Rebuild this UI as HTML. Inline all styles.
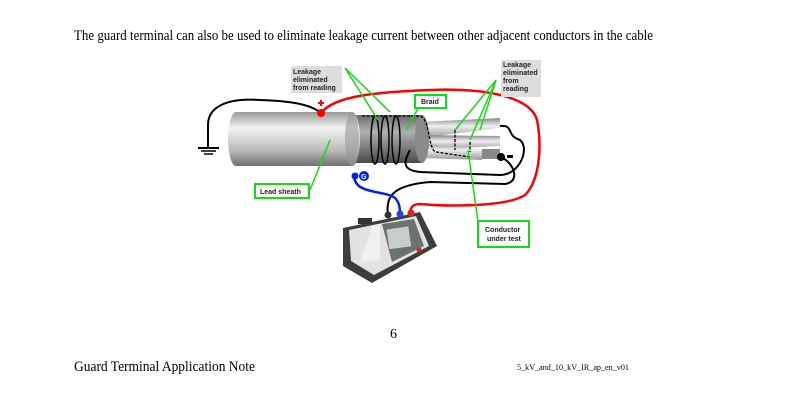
<!DOCTYPE html>
<html><head><meta charset="utf-8"><style>
html,body{margin:0;padding:0;background:#fff;}
svg{display:block}
.s{font-family:"Liberation Serif",serif;fill:#000}
.a{font-family:"Liberation Sans",sans-serif;font-weight:bold;font-size:7px;fill:#222}
</style></head><body>
<svg width="790" height="404" viewBox="0 0 790 404" xmlns="http://www.w3.org/2000/svg">
<defs>
<linearGradient id="g1" x1="0" y1="0" x2="0" y2="1">
<stop offset="0" stop-color="#9a9a9a"/><stop offset="0.3" stop-color="#f2f2f2"/><stop offset="0.7" stop-color="#bdbdbd"/><stop offset="1" stop-color="#707070"/></linearGradient>
<linearGradient id="g2" x1="0" y1="0" x2="0" y2="1">
<stop offset="0" stop-color="#6a6a6a"/><stop offset="0.35" stop-color="#b0b0b0"/><stop offset="1" stop-color="#4a4a4a"/></linearGradient>
<linearGradient id="g3" x1="0" y1="0" x2="0" y2="1">
<stop offset="0" stop-color="#888"/><stop offset="0.4" stop-color="#eee"/><stop offset="1" stop-color="#999"/></linearGradient>
</defs>
<text class="s" x="74" y="40" font-size="14.5" textLength="579" lengthAdjust="spacingAndGlyphs">The guard terminal can also be used to eliminate leakage current between other adjacent conductors in the cable</text>

<path d="M208,148 L208,125 C208,105 230,98 260,100 C290,101 310,104 321,113" fill="none" stroke="#000" stroke-width="2"/>
<line x1="198" y1="148" x2="219" y2="148" stroke="#000" stroke-width="2"/>
<line x1="201" y1="151" x2="216" y2="151" stroke="#000" stroke-width="1.5"/>
<line x1="204" y1="154" x2="213" y2="154" stroke="#000" stroke-width="1.5"/>

<path d="M321,113 C335,95 380,92 430,90 C480,88 530,95 537,120 C542,145 540,180 525,195 C505,208 440,206 420,204 C412,204 410,208 410,215" fill="none" stroke="#f00" stroke-width="2.5"/>

<path d="M420,122 L500,118 L500,128 L420,138 Z" fill="url(#g3)"/>
<path d="M420,135 L500,136 L500,146 L420,150 Z" fill="url(#g3)"/>
<path d="M420,143 L482,150 L482,160 L420,158 Z" fill="url(#g3)"/>
<rect x="482" y="149" width="18" height="10" fill="#888"/>
<path d="M352,115 L422,115 A7,24 0 0 1 422,163 L352,163 Z" fill="url(#g2)"/>
<ellipse cx="422" cy="139" rx="7" ry="24" fill="#8a8a8a"/>
<path d="M236,112 L352,112 A8,27 0 0 1 352,166 L236,166 A8,27 0 0 1 236,112 Z" fill="url(#g1)"/>
<ellipse cx="352" cy="139" rx="7" ry="27" fill="#9a9a9a" opacity="0.6"/>
<g fill="none" stroke="#000" stroke-width="1.5">
<ellipse cx="375" cy="140" rx="4" ry="24"/><ellipse cx="385" cy="140" rx="4" ry="24"/><ellipse cx="396" cy="140" rx="4" ry="24"/>
</g>
<path d="M362,116 L420,116 C430,118 428,150 436,152 L470,157" fill="none" stroke="#000" stroke-width="1.3" stroke-dasharray="3,1.5"/>
<path d="M455,130 V150 M470,142 V152" stroke="#000" stroke-width="1.3" stroke-dasharray="3,1.5"/>
<path d="M500,126 C515,125 505,135 520,140 C530,148 520,175 500,175 L420,172 C400,170 405,160 410,150" fill="none" stroke="#000" stroke-width="2"/>
<path d="M388,215 C385,195 395,185 430,182 L505,184 C520,182 515,165 503,158" fill="none" stroke="#000" stroke-width="2"/>
<circle cx="501" cy="157" r="4" fill="#000"/><rect x="507" y="155" width="6" height="3" fill="#000"/>
<path d="M354,176 C355,195 385,190 395,198 C400,203 400,210 400,215" fill="none" stroke="#0022ee" stroke-width="2.5"/>
<circle cx="355" cy="176" r="3.5" fill="#0022ee"/><circle cx="364" cy="176" r="5" fill="#0022ee"/>
<text x="361" y="179" font-family="Liberation Sans" font-weight="bold" font-size="7" fill="#fff">G</text>
<circle cx="321" cy="113" r="4" fill="#f00"/>
<path d="M318,103 H324 M321,100 V106" stroke="#f00" stroke-width="2"/>

<!-- meter -->
<path d="M343,228 L420,212 L437,246 L372,283 L343,266 Z" fill="#3a3e3e"/>
<path d="M349,230 L416,216 L429,246 L374,275 L351,261 Z" fill="#e4e1e3"/>
<path d="M372,226 L380,224 L380,260 L360,262 Z" fill="#f0eef0"/>
<path d="M382,224 L414,219 L424,246 L392,262 Z" fill="#6a7272"/>
<rect x="388" y="228" width="22" height="20" fill="#c8cccc" transform="rotate(-8 398 239)"/>
<circle cx="388" cy="215" r="3.5" fill="#333"/><circle cx="400" cy="214" r="3.5" fill="#2244dd"/><circle cx="411" cy="213" r="3.5" fill="#d22"/>
<circle cx="419" cy="250" r="2.5" fill="#d22"/>
<rect x="358" y="218" width="14" height="6" fill="#333"/>

<g stroke="#11dd11" stroke-width="1.5" fill="none">
<path d="M345,68 L390,112 M345,68 L378,120"/>
<path d="M496,80 L455,130 M496,80 L470,140 M496,80 L480,130"/>
<path d="M420,105 L406,130"/>
<path d="M310,190 L330,140"/>
<path d="M468,150 L478,222"/>
</g>
<rect x="291" y="66" width="51" height="27" fill="#ddd"/>
<text class="a" x="293" y="74">Leakage</text><text class="a" x="293" y="82">eliminated</text><text class="a" x="293" y="90">from reading</text>
<rect x="501" y="60" width="40" height="37" fill="#ddd"/>
<text class="a" x="503" y="67">Leakage</text><text class="a" x="503" y="75">eliminated</text><text class="a" x="503" y="83">from</text><text class="a" x="503" y="91">reading</text>
<rect x="415" y="95" width="31" height="13" fill="#fff" stroke="#11dd11" stroke-width="2"/>
<text class="a" x="421" y="104">Braid</text>
<rect x="255" y="184" width="54" height="14" fill="#fff" stroke="#11dd11" stroke-width="2"/>
<text class="a" x="260" y="194" fill="#000">Lead sheath</text>
<rect x="478" y="221" width="51" height="26" fill="#fff" stroke="#11dd11" stroke-width="2"/>
<text class="a" x="485" y="232" fill="#000">Conductor</text><text class="a" x="487" y="241" fill="#000">under test</text>

<text class="s" x="390" y="338" font-size="14">6</text>
<text class="s" x="74" y="371" font-size="14.5" textLength="181" lengthAdjust="spacingAndGlyphs">Guard Terminal Application Note</text>
<text class="s" x="517" y="370" font-size="8" textLength="112" lengthAdjust="spacingAndGlyphs">5_kV_and_10_kV_IR_ap_en_v01</text>
</svg>
</body></html>
